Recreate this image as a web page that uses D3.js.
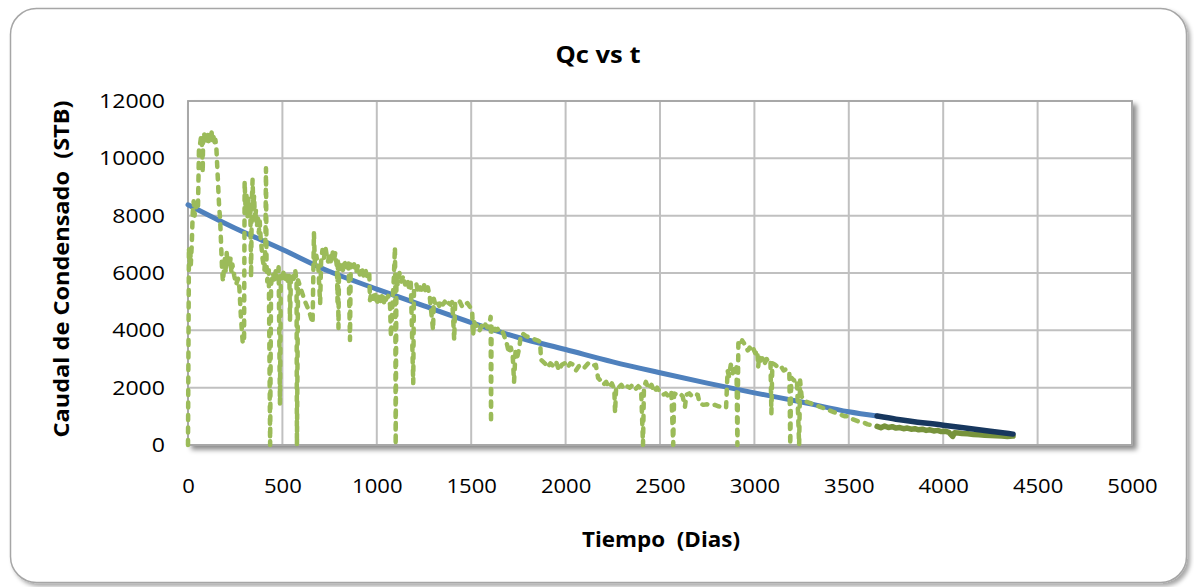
<!DOCTYPE html>
<html>
<head>
<meta charset="utf-8">
<script src="https://cdn.jsdelivr.net/npm/d3@7"></script>
<style>
  html, body { margin: 0; padding: 0; background: #ffffff; }
  svg { display: block; font-family: "Open Sans", "Liberation Sans", sans-serif; }
</style>
</head>
<body>
<svg id="chart" width="1194" height="587"></svg>
<script>
// Measured condensate rate (STB/d) against time (days)
const rateDays = [
  0, 5, 8, 12, 15, 20, 25, 30, 35, 40, 45, 53, 58, 64, 70, 75, 78, 80, 85, 90, 95, 100, 105, 110, 115, 120, 125, 130, 135, 140, 145,
  150, 165, 170, 180, 185, 195, 200, 205, 210, 215, 220, 225, 230, 235, 245, 255, 265, 272, 280, 290, 297,
  300, 305, 310, 315, 320, 325, 330, 334, 338, 342, 346, 350, 355, 360, 365, 370, 375, 380, 385, 395, 405, 410, 413, 416, 420, 428,
  435, 440, 450, 458, 465, 472, 480, 487, 492, 500, 507, 515, 522, 530, 537, 540, 545, 552, 560, 568, 575, 577, 583,
  600, 620, 640, 660, 667, 672, 680, 690, 700, 705, 712, 720, 728, 735, 742, 750, 758, 765, 772, 780, 789, 792, 794, 797,
  800, 810, 820, 830, 840, 850, 858, 862, 870, 880, 890, 900, 910, 920, 930, 940, 950, 960, 964, 970, 980, 990,
  1000, 1010, 1020, 1030, 1040, 1050, 1060, 1070, 1075, 1085, 1090, 1096, 1098, 1100, 1104, 1110, 1120, 1130, 1140, 1150,
  1160, 1170, 1180, 1193, 1197, 1210, 1220, 1230, 1240, 1250, 1260, 1270, 1280, 1298, 1302, 1310, 1320, 1330, 1340, 1350,
  1360, 1370, 1380, 1390, 1400, 1410, 1415, 1430, 1440, 1450, 1460, 1470, 1480, 1495, 1505, 1510, 1515, 1525, 1535, 1545,
  1555, 1565, 1575, 1585, 1595, 1603, 1605, 1608, 1620, 1630, 1640, 1650, 1660, 1670, 1690, 1700, 1710, 1720, 1727, 1735,
  1745, 1755, 1762, 1770, 1790, 1810, 1830, 1850, 1865, 1870, 1890, 1905, 1920, 1935, 1950, 1965, 1980, 1995, 2010, 2025,
  2040, 2055, 2070, 2085, 2100, 2120, 2140, 2160, 2172, 2185, 2200, 2215, 2230, 2245, 2258, 2262, 2268, 2280, 2295, 2310,
  2325, 2340, 2355, 2370, 2385, 2400, 2410, 2415, 2425, 2440, 2455, 2470, 2485, 2500, 2515, 2530, 2545, 2560, 2570, 2575,
  2590, 2605, 2620, 2632, 2640, 2655, 2670, 2685, 2700, 2710, 2730, 2750, 2770, 2790, 2810, 2830, 2850, 2858, 2865, 2875,
  2885, 2895, 2905, 2910, 2915, 2925, 2935, 2945, 2955, 2965, 2975, 2985, 2995, 3005, 3015, 3020, 3025, 3035, 3045, 3055,
  3065, 3075, 3085, 3090, 3095, 3110, 3125, 3140, 3155, 3170, 3185, 3190, 3195, 3210, 3225, 3237, 3242, 3250, 3260, 3280,
  3300, 3320, 3340, 3360, 3380, 3400, 3420, 3440, 3460, 3480, 3500, 3520, 3540, 3560, 3580, 3600, 3620, 3640
];
const rateValues = [
  0, 6900, 6400, 6800, 6300, 7000, 8100, 8500, 8000, 8400, 8200, 8300, 10300, 10500, 10800, 10400, 9500, 10700, 10900, 10600, 10800, 10500, 10850, 10600, 10800, 10700, 10900, 10600, 10750, 10500, 10650,
  10400, 8300, 7900, 6200, 5700, 6500, 6000, 6700, 6300, 6600, 6200, 6500, 6000, 6300, 5900, 5600, 5800, 5500, 4500, 3550, 3600,
  9200, 8200, 8700, 7900, 8600, 8000, 8400, 5850, 8500, 9250, 8300, 8700, 7800, 8200, 7600, 8000, 7400, 7800, 7200, 6500, 6100, 6900, 9650, 6300, 5700, 6100,
  0, 5600, 6000, 5700, 6100, 5800, 6200, 1450, 5900, 5700, 6100, 5800, 6000, 5600, 5900, 4350, 5700, 6000, 5800, 6100, 5700, 0, 5750,
  5400, 5000, 4700, 4250, 7400, 6300, 6600, 6200, 4950, 6400, 6800, 6500, 6900, 6600, 6400, 6700, 6300, 6800, 6400, 6700, 6200, 5000, 6500, 4080,
  6300, 6400, 6100, 6350, 6200, 6400, 3660, 6300, 6100, 6300, 6000, 6250, 5950, 6200, 5900, 6100, 5850, 6000, 5050, 5300, 5100, 5350,
  4900, 5200, 5000, 5300, 4900, 5100, 5200, 4900, 3770, 5200, 5800, 6900, 5600, 0, 5800, 5600, 6000, 5700, 5900, 5600,
  5800, 5500, 5700, 2160, 5500, 5600, 5300, 5500, 5400, 5600, 5300, 5500, 5200, 4010, 5100, 4900, 5000, 4850, 5050, 4900,
  5000, 4850, 4950, 4900, 5000, 3660, 4950, 4900, 5000, 4850, 4950, 4900, 4950, 4800, 4700, 3800, 4300, 4150, 4200, 4000,
  4150, 4050, 4200, 4100, 4150, 4470, 770, 4200, 4100, 4000, 4050, 3950, 4000, 3900, 3500, 3200, 3400, 3100, 2200, 3300,
  3100, 3400, 3800, 3900, 3800, 3750, 3700, 3650, 3600, 2970, 2850, 2700, 2850, 2750, 2900, 2600, 2800, 2850, 2700, 2850,
  2800, 2600, 2750, 2800, 2700, 2850, 2750, 2800, 2340, 2250, 2100, 2200, 2000, 2150, 1950, 1120, 2050, 2000, 2100, 1950,
  2050, 2000, 2100, 1950, 2050, 1950, 0, 2000, 2200, 1950, 2100, 1850, 2000, 1850, 1750, 1800, 1700, 1850, 0, 1800,
  1750, 1800, 1700, 1330, 1750, 1800, 1700, 1780, 1750, 1450, 1400, 1420, 1380, 1400, 1350, 1330, 1300, 2600, 2400, 2800,
  2500, 2700, 2800, 0, 3550, 3450, 3650, 3550, 3400, 3300, 3400, 3250, 3350, 3200, 3300, 2720, 3100, 2950, 3050, 2850,
  3000, 2900, 2950, 1110, 2850, 2800, 2700, 2750, 2600, 2650, 2550, 0, 2350, 2250, 2300, 0, 2250, 1700, 1550, 1500,
  1450, 1400, 1350, 1300, 1250, 1200, 1150, 1100, 1050, 1000, 1000, 900, 850, 800, 780, 720, 700, 680
];

// Rate points used in the history match
const matchDays = [
  3650, 3670, 3690, 3710, 3730, 3750, 3770, 3790, 3810, 3830, 3850, 3870, 3890, 3910, 3930, 3950, 3970, 3990,
  4010, 4030, 4050, 4060, 4080, 4100, 4130, 4160, 4190, 4220, 4250, 4280, 4310, 4340, 4370
];
const matchValues = [
  650, 600, 660, 610, 640, 590, 610, 570, 590, 550, 570, 530, 550, 510, 530, 490, 510, 470,
  480, 440, 300, 430, 420, 400, 390, 370, 360, 340, 330, 320, 310, 300, 310
];

// Decline curve fit
const fitDays = [0, 250, 500, 750, 1000, 1250, 1500, 1750, 2000, 2250, 2500, 2750, 3000, 3250, 3500, 3650];
const fitValues = [8380, 7560, 6820, 6050, 5440, 4850, 4270, 3750, 3330, 2900, 2520, 2160, 1820, 1500, 1160, 1010];

// Decline curve over the matched period
const forecastDays = [3650, 3750, 4000, 4250, 4370];
const forecastValues = [1010, 900, 690, 480, 380];

const xTicks = [0, 500, 1000, 1500, 2000, 2500, 3000, 3500, 4000, 4500, 5000];
const yTicks = [0, 2000, 4000, 6000, 8000, 10000, 12000];

const titleText = "Qc vs t";
const xTitle = "Tiempo  (Dias)";
const yTitle = "Caudal de Condensado  (STB)";

const svg = d3.select("#chart");
const defs = svg.append("defs");

const frameShadow = defs.append("filter").attr("id", "frameShadow")
  .attr("x", "-5%").attr("y", "-5%").attr("width", "110%").attr("height", "110%");
frameShadow.append("feDropShadow").attr("dx", 3).attr("dy", 3).attr("stdDeviation", 2)
  .attr("flood-color", "#000").attr("flood-opacity", 0.35);

const plotShadow = defs.append("filter").attr("id", "plotShadow")
  .attr("x", "-5%").attr("y", "-5%").attr("width", "110%").attr("height", "110%");
plotShadow.append("feDropShadow").attr("dx", 4).attr("dy", 4).attr("stdDeviation", 2.5)
  .attr("flood-color", "#000").attr("flood-opacity", 0.45);

// chart frame
svg.append("rect")
  .attr("x", 10.5).attr("y", 8.5).attr("width", 1176).attr("height", 574)
  .attr("rx", 26).attr("ry", 26)
  .attr("fill", "#fff").attr("stroke", "#a6a6a6").attr("stroke-width", 1.5)
  .attr("filter", "url(#frameShadow)");

const x = d3.scaleLinear().domain([0, 5000]).range([188, 1132]);
const y = d3.scaleLinear().domain([0, 12000]).range([445, 101]);

// plot area
svg.append("rect")
  .attr("x", x(0)).attr("y", y(12000))
  .attr("width", x(5000) - x(0)).attr("height", y(0) - y(12000))
  .attr("fill", "#fff").attr("stroke", "#a0a0a0").attr("stroke-width", 1.5)
  .attr("filter", "url(#plotShadow)");

// gridlines
const grid = svg.append("g").attr("stroke", "#c0c0c0").attr("stroke-width", 2);
grid.selectAll("line.v").data(xTicks).join("line").attr("class", "v")
  .attr("x1", d => x(d)).attr("x2", d => x(d)).attr("y1", y(12000)).attr("y2", y(0));
grid.selectAll("line.h").data(yTicks).join("line").attr("class", "h")
  .attr("x1", x(0)).attr("x2", x(5000)).attr("y1", d => y(d)).attr("y2", d => y(d));

// plot border on top of grid
svg.append("rect")
  .attr("x", x(0)).attr("y", y(12000))
  .attr("width", x(5000) - x(0)).attr("height", y(0) - y(12000))
  .attr("fill", "none").attr("stroke", "#a0a0a0").attr("stroke-width", 1.5);

// wide digits: each label is stretched to a fixed advance per character
const digitAdvance = 12.6;
const fmt = d3.format("d");

const xAxis = d3.axisBottom(x).tickValues(xTicks).tickSize(0).tickPadding(0).tickFormat(fmt);
const gx = svg.append("g").attr("transform", `translate(0, 478)`).call(xAxis);
gx.select(".domain").remove();
gx.selectAll("text").attr("font-size", 20.5).attr("fill", "#000").attr("dy", "0.72em")
  .attr("font-family", "'Open Sans', sans-serif")
  .attr("textLength", d => fmt(d).length * digitAdvance).attr("lengthAdjust", "spacingAndGlyphs");

const yAxis = d3.axisLeft(y).tickValues(yTicks).tickSize(0).tickPadding(0).tickFormat(fmt);
const gy = svg.append("g").attr("transform", `translate(165, 0)`).call(yAxis);
gy.select(".domain").remove();
gy.selectAll("text").attr("font-size", 20.5).attr("fill", "#000")
  .attr("font-family", "'Open Sans', sans-serif")
  .attr("textLength", d => fmt(d).length * 13.2).attr("lengthAdjust", "spacingAndGlyphs");

// series
const line = d3.line().x(d => x(d[0])).y(d => y(d[1]));
const smooth = d3.line().x(d => x(d[0])).y(d => y(d[1])).curve(d3.curveMonotoneX);

svg.append("path")
  .datum(d3.zip(fitDays, fitValues))
  .attr("d", smooth).attr("fill", "none")
  .attr("stroke", "#4f81bd").attr("stroke-width", 5).attr("stroke-linecap", "round");

svg.append("path")
  .datum(d3.zip(rateDays, rateValues))
  .attr("d", line).attr("fill", "none")
  .attr("stroke", "#9bbb59").attr("stroke-width", 4.5)
  .attr("stroke-linecap", "round").attr("stroke-linejoin", "round")
  .attr("stroke-dasharray", "5,7.5");

svg.append("path")
  .datum(d3.zip(matchDays, matchValues))
  .attr("d", line).attr("fill", "none")
  .attr("stroke", "#77933c").attr("stroke-width", 5.5)
  .attr("stroke-linecap", "round").attr("stroke-linejoin", "round");

svg.append("path")
  .datum(d3.zip(forecastDays, forecastValues))
  .attr("d", smooth).attr("fill", "none")
  .attr("stroke", "#17375e").attr("stroke-width", 5.5).attr("stroke-linecap", "round");

// titles
svg.append("text").text(titleText)
  .attr("x", 598).attr("y", 63).attr("text-anchor", "middle")
  .attr("font-size", 24).attr("font-weight", "bold").attr("fill", "#000")
  .attr("textLength", 85).attr("lengthAdjust", "spacingAndGlyphs");

svg.append("text").text(xTitle)
  .style("white-space", "pre")
  .attr("x", 661).attr("y", 547).attr("text-anchor", "middle")
  .attr("font-size", 21).attr("font-weight", "bold").attr("fill", "#000")
  .attr("textLength", 158).attr("lengthAdjust", "spacingAndGlyphs");

svg.append("text").text(yTitle)
  .style("white-space", "pre")
  .attr("transform", "translate(69, 269) rotate(-90)")
  .attr("text-anchor", "middle")
  .attr("font-size", 21).attr("font-weight", "bold").attr("fill", "#000")
  .attr("textLength", 337).attr("lengthAdjust", "spacingAndGlyphs");
</script>
</body>
</html>
